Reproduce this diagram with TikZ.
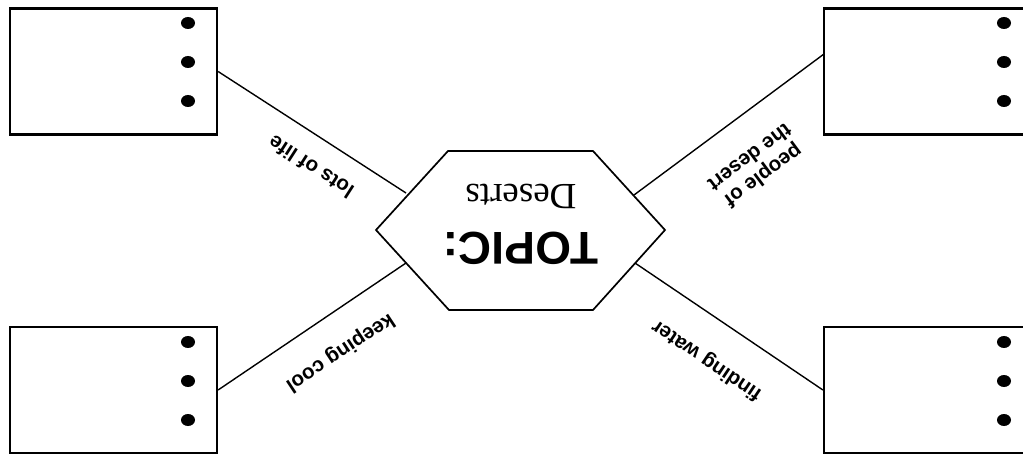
\documentclass[tikz,border=0pt]{standalone}
\usepackage{fontspec}
\setmainfont{Liberation Serif}
\setsansfont{Liberation Sans}
\usetikzlibrary{calc}
\begin{document}
\begin{tikzpicture}[x=1pt,y=-1pt,
  box/.style={draw, line width=2.2pt, minimum width=207pt, minimum height=126pt, inner sep=0pt},
  conn/.style={line width=1.4pt},
  hexline/.style={line width=1.7pt, line join=miter},
  lbl/.style={font=\sffamily\bfseries\fontsize{20.5}{23}\selectfont, inner sep=0pt, align=center},
  bigtitle/.style={font=\sffamily\bfseries\fontsize{46}{48}\selectfont, inner sep=0pt},
  subtitle/.style={font=\rmfamily\fontsize{37}{40}\selectfont, inner sep=0pt}]
\useasboundingbox (0,0) rectangle (1023,454);
% boxes
\node[box] (tl) at (113.5,71.5) {};
\node[box] (tr) at (927.5,71.5) {};
\node[box] (bl) at (113.5,390) {};
\node[box] (br) at (927.5,390) {};
% dots
\foreach \x/\y in {188/23,188/62,188/101,1004/23,1004/62,1004/101,188/342,188/381,188/420,1004/342,1004/381,1004/420}
  \fill (\x,\y) ellipse [x radius=7pt, y radius=6pt];
% hexagon
\coordinate (h1) at (376,230);
\coordinate (h2) at (448,151);
\coordinate (h3) at (593,151);
\coordinate (h4) at (665,230);
\coordinate (h5) at (593,310);
\coordinate (h6) at (449,310);
\draw[hexline] (h1) -- (h2) -- (h3) -- (h4) -- (h5) -- (h6) -- cycle;
\node[bigtitle, rotate=180] (topic) at (521,248) {TOPIC:};
\node[subtitle, rotate=180] (deserts) at (521,196) {Deserts};
% attachment points
\coordinate (hul) at (406,193);
\coordinate (hur) at (634,195);
\coordinate (hll) at (406,263);
\coordinate (hlr) at (635,263);
\coordinate (trp) at (824,54);
% connectors
\draw[conn] (tl.east) -- (hul);
\draw[conn] (hur) -- (trp);
\draw[conn] (bl.east) -- (hll);
\draw[conn] (hlr) -- (br.west);
% labels
\node[lbl, rotate=147.2] (l1) at (311,167) {lots of life};
\node[lbl, rotate=216.7] (l2) at (757,167) {people of\\the desert};
\node[lbl, rotate=213.5] (l3) at (340,352) {keeping cool};
\node[lbl, rotate=146.1] (l4) at (707,360) {finding water};
\end{tikzpicture}
\end{document}
